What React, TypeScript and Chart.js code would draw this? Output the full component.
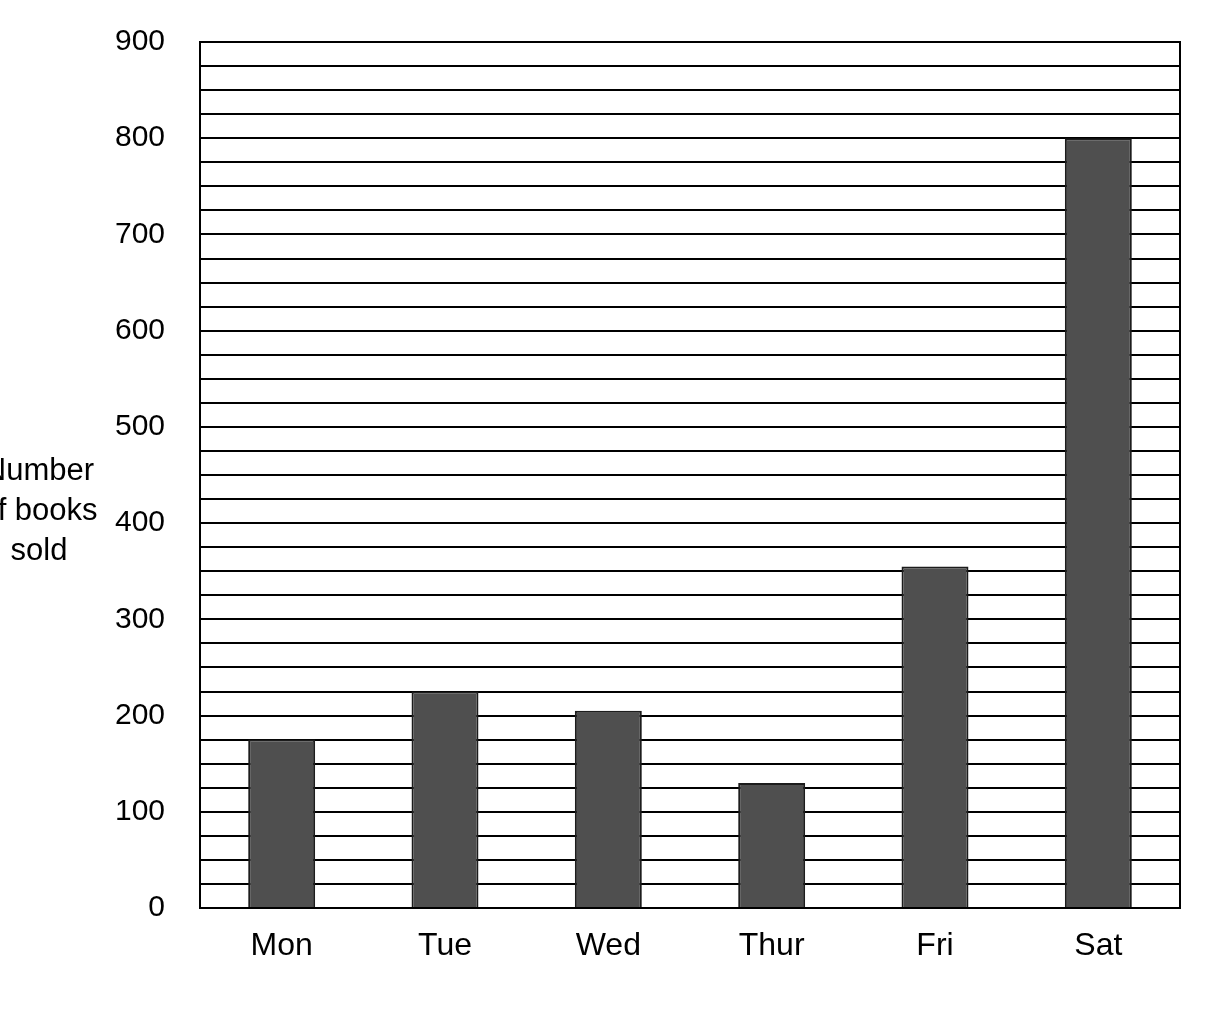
import { useRef, useEffect } from "react";
import { Chart, registerables } from "chart.js";

Chart.register(...registerables);

const days = ["Mon", "Tue", "Wed", "Thur", "Fri", "Sat"];
const booksSold = [175, 225, 205, 130, 355, 800];
const titleLines = ["Number", "of books", "sold"];

const FONT = "'Liberation Sans', Arial, sans-serif";

// draws the frame and the horizontal axis title at the left edge
const framePlugin = {
  id: "frame",
  afterDatasetsDraw(chart: any) {
    const { ctx, chartArea } = chart;
    ctx.save();
    ctx.strokeStyle = "#000";
    ctx.lineWidth = 2;
    ctx.strokeRect(chartArea.left, chartArea.top, chartArea.right - chartArea.left, chartArea.bottom - chartArea.top);
    ctx.fillStyle = "#000";
    ctx.font = "31px " + FONT;
    ctx.textAlign = "center";
    ctx.textBaseline = "middle";
    titleLines.forEach((t, i) => {
      ctx.fillText(t, 39, 471 + i * 40);
    });
    ctx.restore();
  },
};

const App = () => {
  const canvasRef = useRef<HTMLCanvasElement>(null);

  useEffect(() => {
    const ctx = canvasRef.current?.getContext("2d");
    if (!ctx) return;

    const myChart = new Chart(ctx, {
      type: "bar",
      data: {
        labels: days,
        datasets: [
          {
            label: "Books sold",
            data: booksSold,
            backgroundColor: "#4f4f4f",
            borderColor: "#1c1c1c",
            borderWidth: 2,
            barPercentage: 0.41,
            categoryPercentage: 1,
          },
        ],
      },
      options: {
        animation: false,
        responsive: true,
        maintainAspectRatio: false,
        layout: { padding: { top: 42, right: 36, bottom: 0, left: 0 } },
        plugins: {
          legend: { display: false },
          tooltip: { enabled: false },
        },
        scales: {
          x: {
            grid: { display: false, drawTicks: false },
            border: { display: true, color: "#000", width: 2 },
            ticks: {
              color: "#000",
              padding: 19,
              font: { family: FONT, size: 32 },
            },
            afterFit: (scale: any) => {
              scale.height = 104;
            },
          },
          y: {
            min: 0,
            max: 900,
            grid: { color: "#000", lineWidth: 2, drawTicks: false },
            border: { display: true, color: "#000", width: 2 },
            ticks: {
              stepSize: 25,
              autoSkip: false,
              color: "#000",
              padding: 35,
              font: { family: FONT, size: 30 },
              callback: (v: any) => (Number(v) % 100 === 0 ? String(v) : ""),
            },
            afterFit: (scale: any) => {
              scale.width = 200;
              // tick padding would otherwise push the plot top down
              scale.paddingTop = 0;
              scale.paddingBottom = 0;
            },
          },
        },
      },
      plugins: [framePlugin],
    });

    return () => {
      myChart.destroy();
    };
  }, []);

  return (
    <div style={{ position: "absolute", left: 0, top: 0, width: 1216, height: 1012, background: "#fff" }}>
      <canvas ref={canvasRef}></canvas>
    </div>
  );
};

export default App;
